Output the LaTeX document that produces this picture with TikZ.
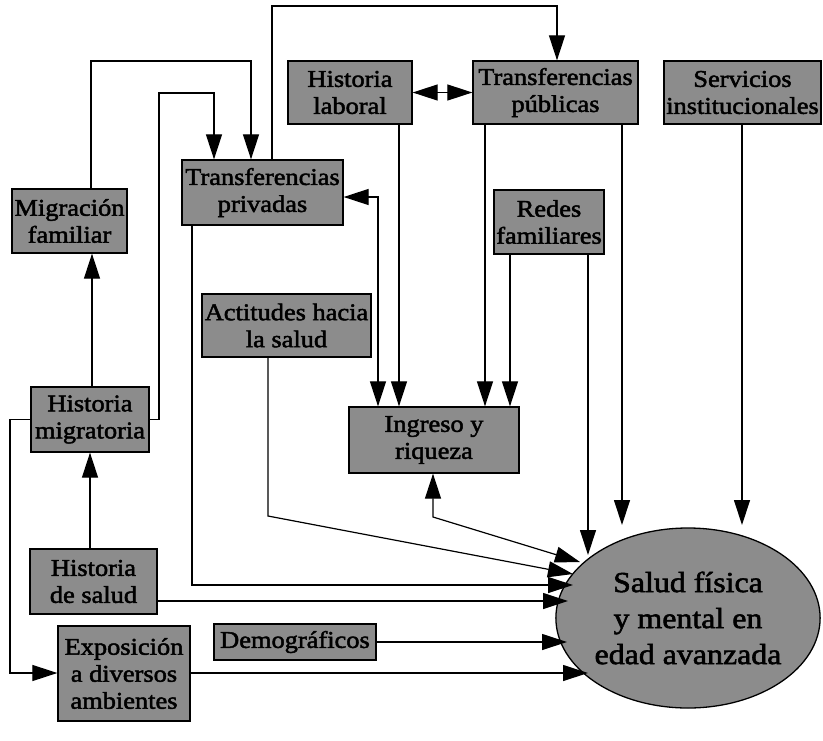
\documentclass[tikz,border=0pt]{standalone}
\usepackage{fontspec}
\setmainfont{Liberation Serif}[FakeStretch=1.1,FakeBold=2]
\usetikzlibrary{arrows.meta,shapes.geometric}
\tikzset{
  box/.style={draw=black,line width=1.3pt,fill=black!45,inner sep=0pt,align=center,
    font=\fontsize{24}{27}\selectfont},
  arr/.style={line width=1.2pt,-{Triangle[length=25pt,width=16pt]}},
  arrtwo/.style={line width=1.2pt,{Triangle[length=25pt,width=16pt]}-{Triangle[length=25pt,width=16pt]}},
}
\begin{document}
\begin{tikzpicture}[x=1pt,y=-1pt]
\useasboundingbox (0,0) rectangle (823,740);
% boxes
\node[box,minimum width=124pt,minimum height=63pt] (lab) at (350,92.5) {Historia\\laboral};
\node[box,minimum width=165pt,minimum height=63pt] (pub) at (555.5,92.5) {Transferencias\\públicas};
\node[box,minimum width=157pt,minimum height=63pt] (serv) at (742.5,92.5) {Servicios\\institucionales};
\node[box,minimum width=115pt,minimum height=64pt] (mig) at (69.5,221) {Migración\\familiar};
\node[box,minimum width=161pt,minimum height=65pt] (priv) at (262.5,192.5) {Transferencias\\privadas};
\node[box,minimum width=110pt,minimum height=64pt] (redes) at (549,222) {Redes\\familiares};
\node[box,minimum width=169pt,minimum height=63pt] (act) at (286.5,325.5) {Actitudes hacia\\la salud};
\node[box,minimum width=118pt,minimum height=65pt] (hmig) at (90,419.5) {Historia\\migratoria};
\node[box,minimum width=170pt,minimum height=66pt] (ing) at (434,440) {Ingreso y\\riqueza};
\node[box,minimum width=127pt,minimum height=65pt] (hsal) at (93.5,581.5) {Historia\\de salud};
\node[box,minimum width=132pt,minimum height=95pt] (expo) at (124,673.5) {Exposición\\a diversos\\ambientes};
\node[box,minimum width=162pt,minimum height=36pt] (demo) at (295,642) {Demográficos};
\node[box,ellipse,minimum width=224pt,minimum height=180pt,font=\fontsize{29}{36}\selectfont] (sal) at (688,618) {Salud física\\y mental en\\edad avanzada};
% connectors
\draw[arr] (91,0 |- mig.north) |- (251,61) -- (251,0 |- priv.north);
\draw[arr] (272,0 |- priv.north) |- (557,6) -- (557,0 |- pub.north);
\draw[arr] (hmig.east) -| (159,93) -| (214,0 |- priv.north);
\draw[arrtwo] (lab.east) -- (pub.west);
\draw[arrtwo] (priv.east |- 0,197) -| (378,0 |- ing.north);
\draw[arr] (399,0 |- lab.south) -- (399,0 |- ing.north);
\draw[arr] (485,0 |- pub.south) -- (485,0 |- ing.north);
\draw[arr] (510,0 |- redes.south) -- (510,0 |- ing.north);
\draw[arr] (588,0 |- redes.south) -- (588,555);
\draw[arr] (622,0 |- pub.south) -- (622,525);
\draw[arr] (742,0 |- serv.south) -- (742,525);
\draw[arrtwo] (433,0 |- ing.south) -- (433,517) -- (580,562);
\draw[arr] (268,0 |- act.south) -- (268,516) -- (573,574);
\draw[arr] (192,0 |- priv.south) |- (573,585);
\draw[arr] (hsal.east |- 0,601) -- (568,601);
\draw[arr] (demo.east) -- (567,642);
\draw[arr] (expo.east |- 0,673) -- (588,673);
\draw[arr] (hmig.west) -| (10,673) -- (expo.west |- 0,673);
\draw[arr] (90,0 |- hsal.north) -- (90,0 |- hmig.south);
\draw[arr] (92,0 |- hmig.north) -- (92,0 |- mig.south);
\end{tikzpicture}
\end{document}
